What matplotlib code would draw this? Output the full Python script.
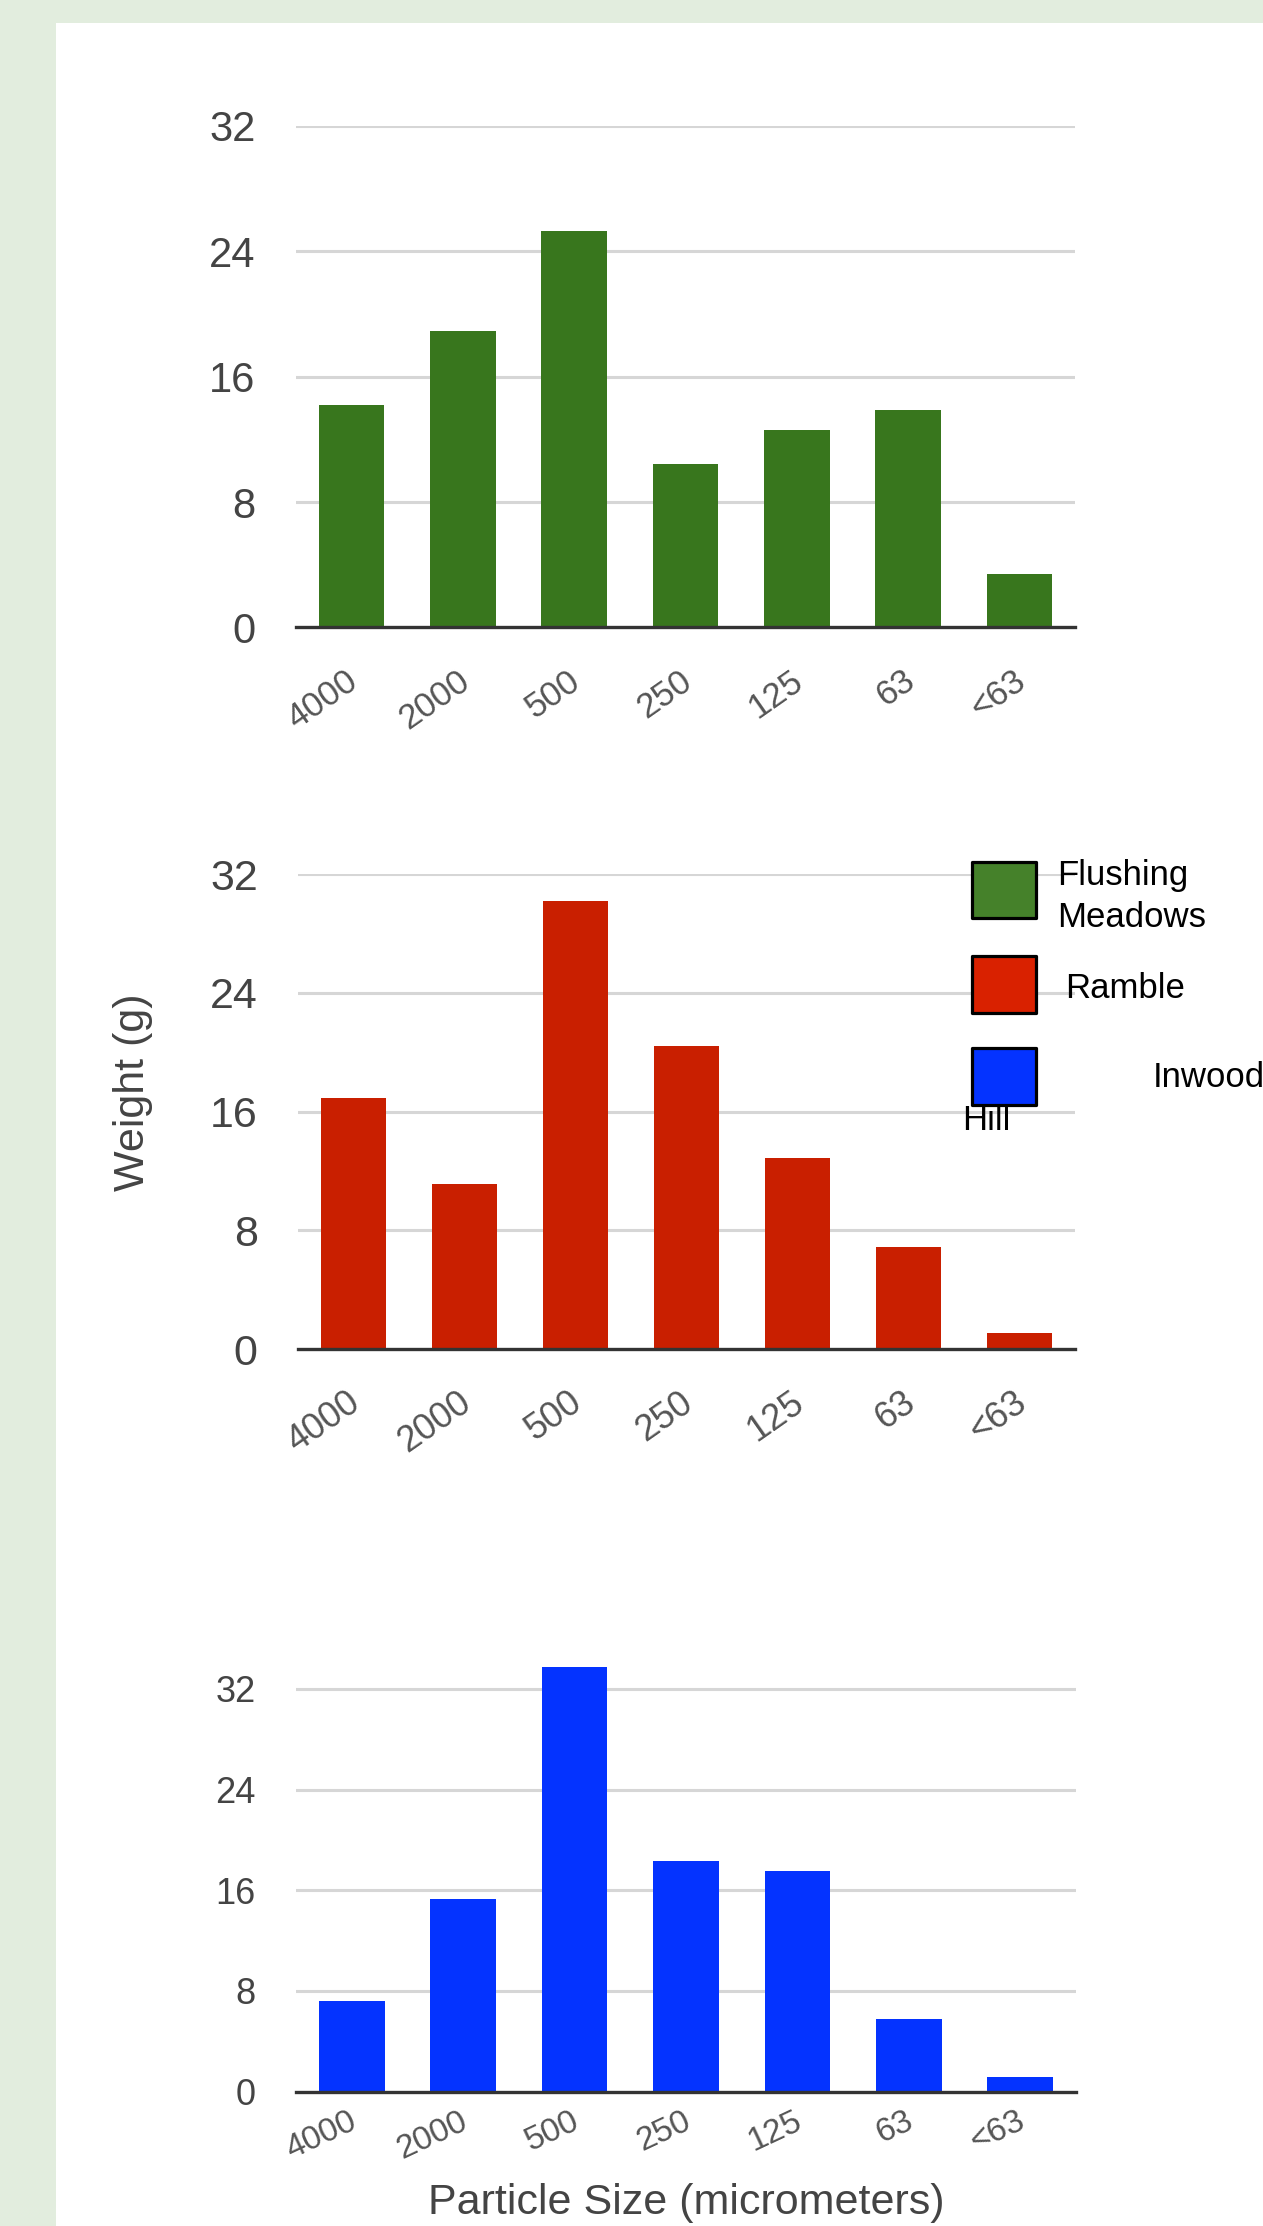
import matplotlib
matplotlib.use('Agg')
import matplotlib.pyplot as plt
import matplotlib.transforms as mtransforms
from matplotlib.patches import Rectangle

plt.rcParams['font.family'] = ['Liberation Sans', 'DejaVu Sans']

# particle size classes (micrometers) and sediment weights (g) per site
sizes = ['4000', '2000', '500', '250', '125', '63', '<63']
flushing = [14.2, 18.9, 25.3, 10.4, 12.6, 13.9, 3.4]
ramble = [16.9, 11.1, 30.2, 20.4, 12.9, 6.9, 1.1]
inwood = [7.2, 15.3, 33.7, 18.3, 17.5, 5.8, 1.2]
yticks = [0, 8, 16, 24, 32]

W, H = 1263, 2226
fig = plt.figure(figsize=(W / 100, H / 100), dpi=100)
fig.patch.set_facecolor('#e2edde')
fig.add_artist(Rectangle((56 / W, 0), 1 - 56 / W, 1 - 23 / H,
                         transform=fig.transFigure, facecolor='white',
                         edgecolor='none', zorder=0))


def px_axes(left, top, right, bottom):
    ax = fig.add_axes([left / W, 1 - bottom / H, (right - left) / W, (bottom - top) / H])
    ax.set_facecolor('none')
    return ax


def bar_panel(ax, values, color, ymax, ysize, xsize, angle, drop):
    x = range(len(values))
    ax.bar(x, values, width=0.59, color=color, zorder=2)
    ax.set_xlim(-0.5, len(values) - 0.5)
    ax.set_ylim(0, ymax)
    ax.set_yticks(yticks)
    ax.set_yticklabels([str(t) for t in yticks])
    ax.set_xticks([])
    for s in ax.spines.values():
        s.set_visible(False)
    ax.tick_params(axis='y', length=0, pad=29, labelsize=ysize, labelcolor='#444444')
    for t in yticks[1:]:
        ax.axhline(t, color='#d6d6d6', lw=2.2, zorder=1)
    ax.axhline(0, color='#333333', lw=2.4, zorder=3, clip_on=False)
    off = ax.transData + mtransforms.ScaledTranslation(3 / 100, -drop / 100, fig.dpi_scale_trans)
    for i, lab in enumerate(sizes):
        ax.text(i, 0, lab, transform=off, rotation=angle, rotation_mode='anchor',
                ha='right', va='center', fontsize=xsize, color='#555555')


ax1 = px_axes(296, 125.8, 1075, 627.5)
bar_panel(ax1, flushing, '#38761d', 32, 30, 25, 35, 50)

ax2 = px_axes(298, 874.2, 1075, 1349.2)
bar_panel(ax2, ramble, '#c91f00', 32, 31, 26, 35, 50)

ax3 = px_axes(296, 2091.7 - 34 / 32 * 402.9, 1076, 2091.7)
bar_panel(ax3, inwood, '#0433ff', 34, 26, 24, 25, 28)

fig.text(133 / W, 1 - 1092 / H, 'Weight (g)', rotation=90, ha='center', va='center',
         fontsize=31, color='#444444')
fig.text(686 / W, 1 - 2214 / H, 'Particle Size (micrometers)', ha='center',
         va='baseline', fontsize=31, color='#444444')

# hand-placed legend boxes and labels
legend_boxes = [('#45812a', 862, 918), ('#d92100', 956, 1013), ('#0433ff', 1048, 1105)]
for col, top, bot in legend_boxes:
    fig.add_artist(Rectangle((972 / W, 1 - bot / H), 64 / W, (bot - top) / H,
                             transform=fig.transFigure, facecolor=col,
                             edgecolor='black', lw=2.3, joinstyle='round', zorder=5))

legend_texts = [('Flushing', 1057, 885), ('Meadows', 1057, 927), ('Ramble', 1065, 998),
                ('Inwood', 1153, 1087), ('Hill', 962, 1130)]
for txt, x, y in legend_texts:
    fig.text(x / W, 1 - y / H, txt, ha='left', va='baseline', fontsize=25,
             color='black', zorder=6)

fig.savefig('out.png', dpi=100, facecolor=fig.get_facecolor())
